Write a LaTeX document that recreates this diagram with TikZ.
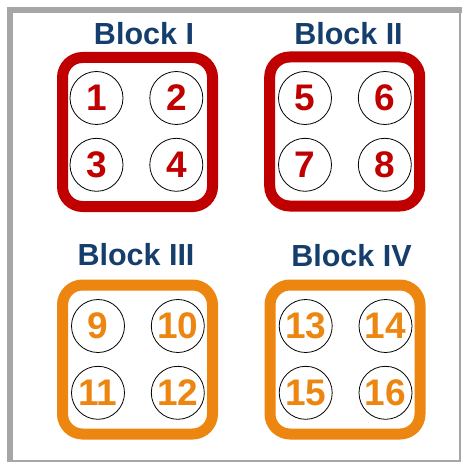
\documentclass[tikz,border=0pt]{standalone}
\usepackage{fontspec}
\setmainfont{Liberation Sans}
\usetikzlibrary{positioning}
\definecolor{titleblue}{RGB}{22,62,108}
\definecolor{blkred}{RGB}{192,0,0}
\definecolor{blkorange}{RGB}{236,134,16}
\definecolor{framegray}{RGB}{166,166,166}

\begin{document}
\begin{tikzpicture}[
  x=1pt,y=-1pt,
  blk/.style={draw,line width=11pt,rounded corners=20pt,minimum width=150pt,minimum height=149pt},
  wl/.style={circle,draw=black,line width=0.8pt,minimum size=53pt,inner sep=0pt,font=\fontsize{37}{37}\selectfont\bfseries},
  ttl/.style={text=titleblue,font=\fontsize{30.5}{31}\selectfont\bfseries,inner sep=0pt,anchor=base},
  node distance=13pt and 26pt
]
\useasboundingbox (0,0) rectangle (462,462);
% outer frame
\draw[framegray,line width=6pt] (10,462) -- (10,10) -- (462,10);
\draw[framegray,line width=2pt] (460,13) -- (460,461) -- (7,461);

% block I
\node[ttl] (tI) at (144,45) {Block I};
\node[blk,draw=blkred] (bI) at (137.5,132) {};
\node[wl,text=blkred] (w1) at (96.5,98) {1};
\node[wl,text=blkred,right=of w1] (w2) {2};
\node[wl,text=blkred,below=of w1] (w3) {3};
\node[wl,text=blkred,below=of w2] (w4) {4};

% block II
\node[ttl] (tII) at (348.5,45) {Block II};
\node[blk,draw=blkred] (bII) at (344.7,131.5) {};
\node[wl,text=blkred] (w5) at (305,98) {5};
\node[wl,text=blkred,right=of w5] (w6) {6};
\node[wl,text=blkred,below=of w5] (w7) {7};
\node[wl,text=blkred,below=of w6] (w8) {8};

% block III
\node[ttl] (tIII) at (136,265.5) {Block III};
\node[blk,draw=blkorange] (bIII) at (137.5,359.5) {};
\node[wl,text=blkorange] (w9) at (98,326) {9};
\node[wl,text=blkorange,right=of w9] (w10) {10};
\node[wl,text=blkorange,below=of w9] (w11) {11};
\node[wl,text=blkorange,below=of w10] (w12) {12};

% block IV
\node[ttl] (tIV) at (351.5,266) {Block IV};
\node[blk,draw=blkorange] (bIV) at (345,359.5) {};
\node[wl,text=blkorange] (w13) at (305.7,326) {13};
\node[wl,text=blkorange,right=of w13] (w14) {14};
\node[wl,text=blkorange,below=of w13] (w15) {15};
\node[wl,text=blkorange,below=of w14] (w16) {16};
\end{tikzpicture}
\end{document}
